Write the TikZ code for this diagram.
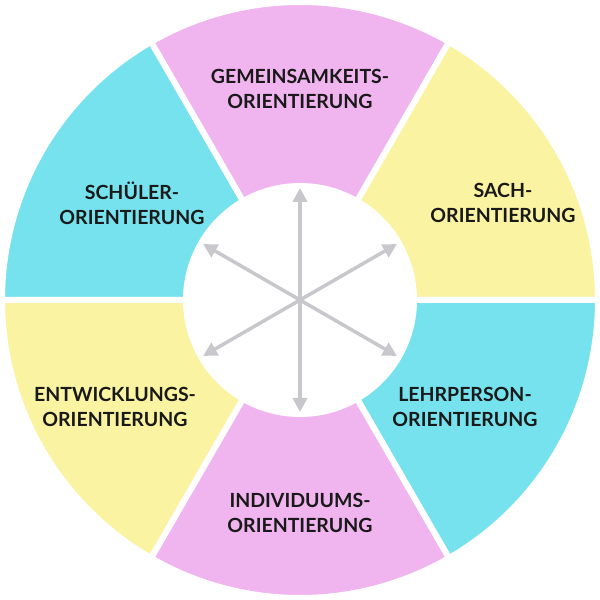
\documentclass[tikz,border=0pt]{standalone}
\usepackage{fontspec}
\setmainfont{Lato}
\usetikzlibrary{arrows.meta,calc}
\definecolor{pk}{HTML}{F0B4EE}
\definecolor{cy}{HTML}{76E2EE}
\definecolor{ye}{HTML}{FAF3A2}
\definecolor{ar}{HTML}{C8C8CC}
\tikzset{lbl/.style={font=\bfseries\fontsize{19.5}{25}\selectfont,align=center,text=black!90},
 arr/.style={draw=ar,line width=3.5pt,{Triangle[length=14pt,width=14pt]}-{Triangle[length=14pt,width=14pt]}}}
\begin{document}
\begin{tikzpicture}[x=1pt,y=1pt]
\useasboundingbox (0,0) rectangle (600,600);
\coordinate (c) at (300,300);
\foreach \a/\col in {60/pk,0/ye,-60/cy,-120/pk,180/ye,120/cy}{
  \fill[\col,draw=white,line width=6pt] (c) -- ++(\a:298) arc[start angle=\a,end angle=\a+60,radius=298] -- cycle;
}
\fill[white] (c) circle (117);
\foreach \a in {90,30,150}{
  \draw[arr] ($(c)+(\a:112)$) -- ($(c)+(\a+180:112)$);
}
\node[lbl] (g) at (300,511) {GEMEINSAMKEITS-\\ORIENTIERUNG};
\node[lbl] (s) at (503,397) {SACH-\\ORIENTIERUNG};
\node[lbl] (sc) at (132,397) {SCHÜLER-\\ORIENTIERUNG};
\node[lbl] (e) at (115,193) {ENTWICKLUNGS-\\ORIENTIERUNG};
\node[lbl] (l) at (465,193) {LEHRPERSON-\\ORIENTIERUNG};
\node[lbl] (i) at (300,87) {INDIVIDUUMS-\\ORIENTIERUNG};
\end{tikzpicture}
\end{document}
